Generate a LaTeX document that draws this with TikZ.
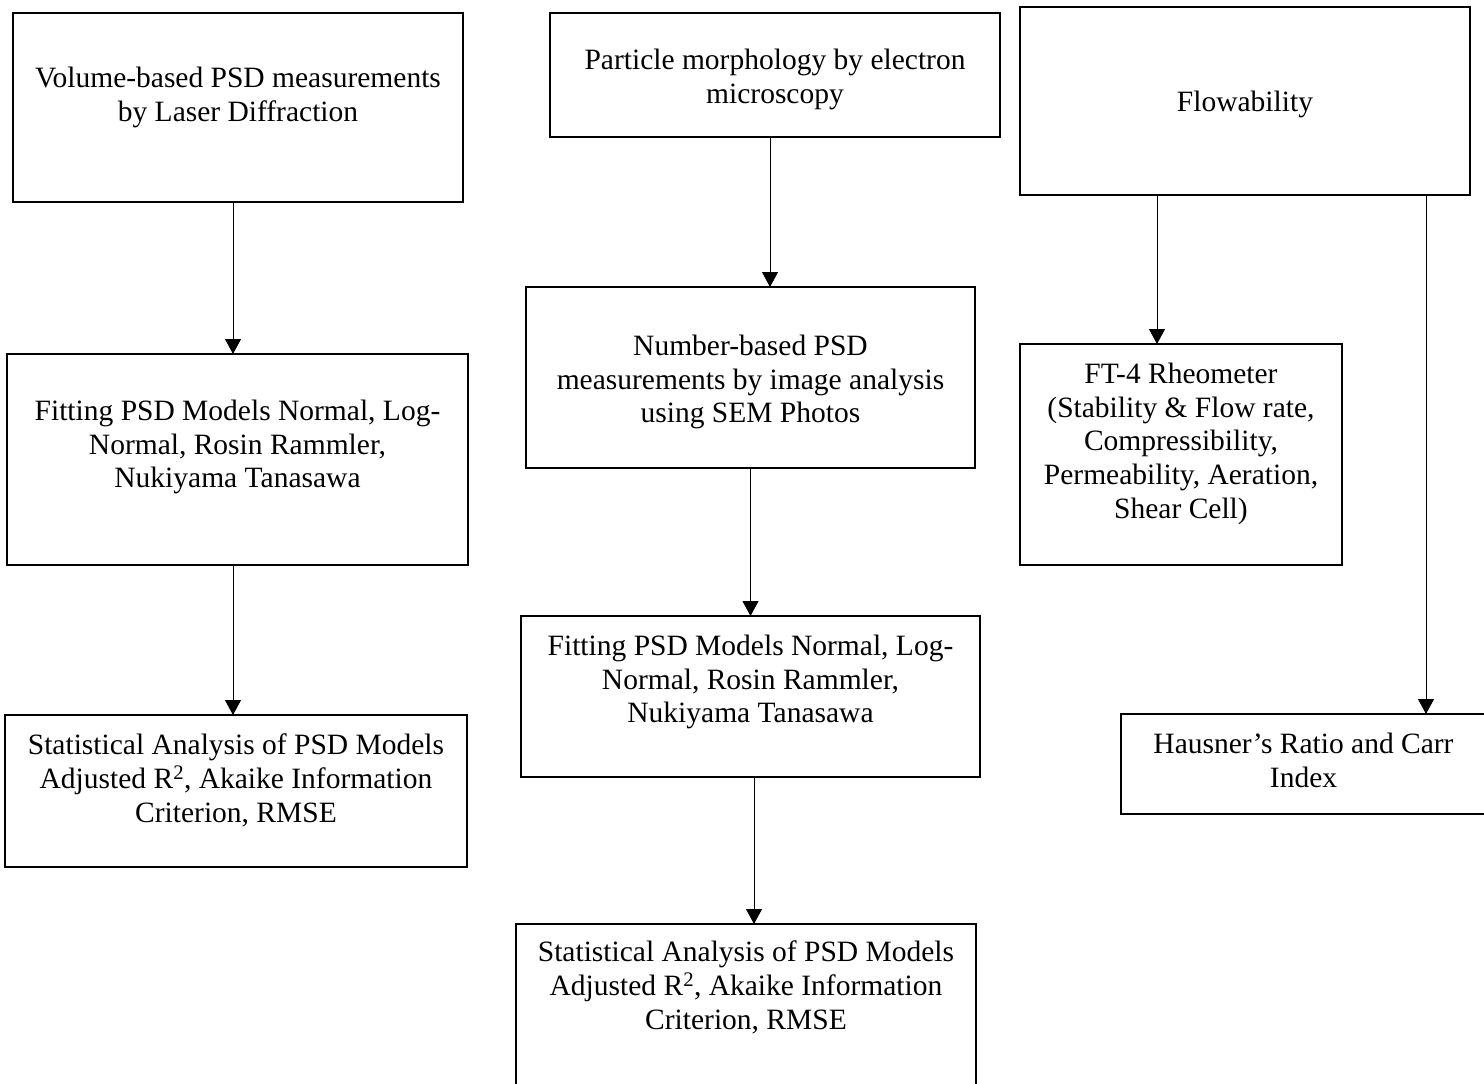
\documentclass[tikz,border=0pt]{standalone}
\usepackage{fontspec}
\setmainfont{Liberation Serif}
\usepackage{tikz}
\usetikzlibrary{arrows.meta,positioning}
\tikzstyle{stage} = [rectangle, draw=black, line width=2.8pt, outer sep=0pt, inner sep=0pt]
\tikzstyle{stagetext} = [inner sep=0pt, align=center, text=black, font=\fontsize{29.5}{33.6}\selectfont, execute at begin node=\strut]
\tikzstyle{tedge} = [draw, line width=0.8pt, -{Triangle[width=16pt,length=15pt]}]

\begin{document}
\begin{tikzpicture}[x=1pt, y=-1pt]
\useasboundingbox (0,0) rectangle (1484,1084);
\clip (0,0) rectangle (1484,1084);

% laser diffraction column =============================
\node[stage, minimum width=450pt, minimum height=189pt] (volume) at (238,107.5) {};
\node[stagetext, below=54pt of volume.north] (volume-t) {Volume-based PSD measurements\\by Laser Diffraction};

\node[stage, minimum width=461pt, minimum height=211pt] (fitvol) at (237.5,459.5) {};
\node[stagetext, below=46pt of fitvol.north] (fitvol-t) {Fitting PSD Models Normal, Log-\\Normal, Rosin Rammler,\\Nukiyama Tanasawa};

\node[stage, minimum width=462pt, minimum height=152pt] (statvol) at (236,791) {};
\node[stagetext, below=19pt of statvol.north] (statvol-t) {Statistical Analysis of PSD Models\\Adjusted R\textsuperscript{2}, Akaike Information\\Criterion, RMSE};

% electron microscopy column =============================
\node[stage, minimum width=450pt, minimum height=124pt] (morph) at (775,75) {};
\node[stagetext, below=36pt of morph.north] (morph-t) {Particle morphology by electron\\microscopy};

\node[stage, minimum width=449pt, minimum height=181pt] (number) at (750.5,377.5) {};
\node[stagetext, below=48pt of number.north] (number-t) {Number-based PSD\\measurements by image analysis\\using SEM Photos};

\node[stage, minimum width=459pt, minimum height=161pt] (fitnum) at (750.5,696.5) {};
\node[stagetext, below=19pt of fitnum.north] (fitnum-t) {Fitting PSD Models Normal, Log-\\Normal, Rosin Rammler,\\Nukiyama Tanasawa};

\node[stage, minimum width=460pt, minimum height=166pt] (statnum) at (746,1007) {};
\node[stagetext, below=17pt of statnum.north] (statnum-t) {Statistical Analysis of PSD Models\\Adjusted R\textsuperscript{2}, Akaike Information\\Criterion, RMSE};

% flowability column =============================
\node[stage, minimum width=450pt, minimum height=188pt] (flow) at (1245,101) {};
\node[stagetext, below=81pt of flow.north] (flow-t) {Flowability};

\node[stage, minimum width=322pt, minimum height=221pt] (rheo) at (1181,454.5) {};
\node[stagetext, below=19pt of rheo.north] (rheo-t) {FT-4 Rheometer\\(Stability \& Flow rate,\\Compressibility,\\Permeability, Aeration,\\Shear Cell)};

\node[stage, minimum width=365pt, minimum height=100pt] (hausner) at (1303.5,764) {};
\node[stagetext, below=19pt of hausner.north] (hausner-t) {Hausner’s Ratio and Carr\\Index};

% edges
\path[tedge] ([xshift=-5pt]volume.south) -- ([xshift=-5pt]volume.south |- fitvol.north);
\path[tedge] ([xshift=-4.5pt]fitvol.south) -- ([xshift=-4.5pt]fitvol.south |- statvol.north);

\path[tedge] ([xshift=-5pt]morph.south) -- ([xshift=-5pt]morph.south |- number.north);
\path[tedge] (number.south) -- (number.south |- fitnum.north);
\path[tedge] ([xshift=3.5pt]fitnum.south) -- ([xshift=3.5pt]fitnum.south |- statnum.north);

\path[tedge] ([xshift=-88pt]flow.south) -- ([xshift=-88pt]flow.south |- rheo.north);
\path[tedge] ([xshift=181pt]flow.south) -- ([xshift=181pt]flow.south |- hausner.north);

\end{tikzpicture}
\end{document}
